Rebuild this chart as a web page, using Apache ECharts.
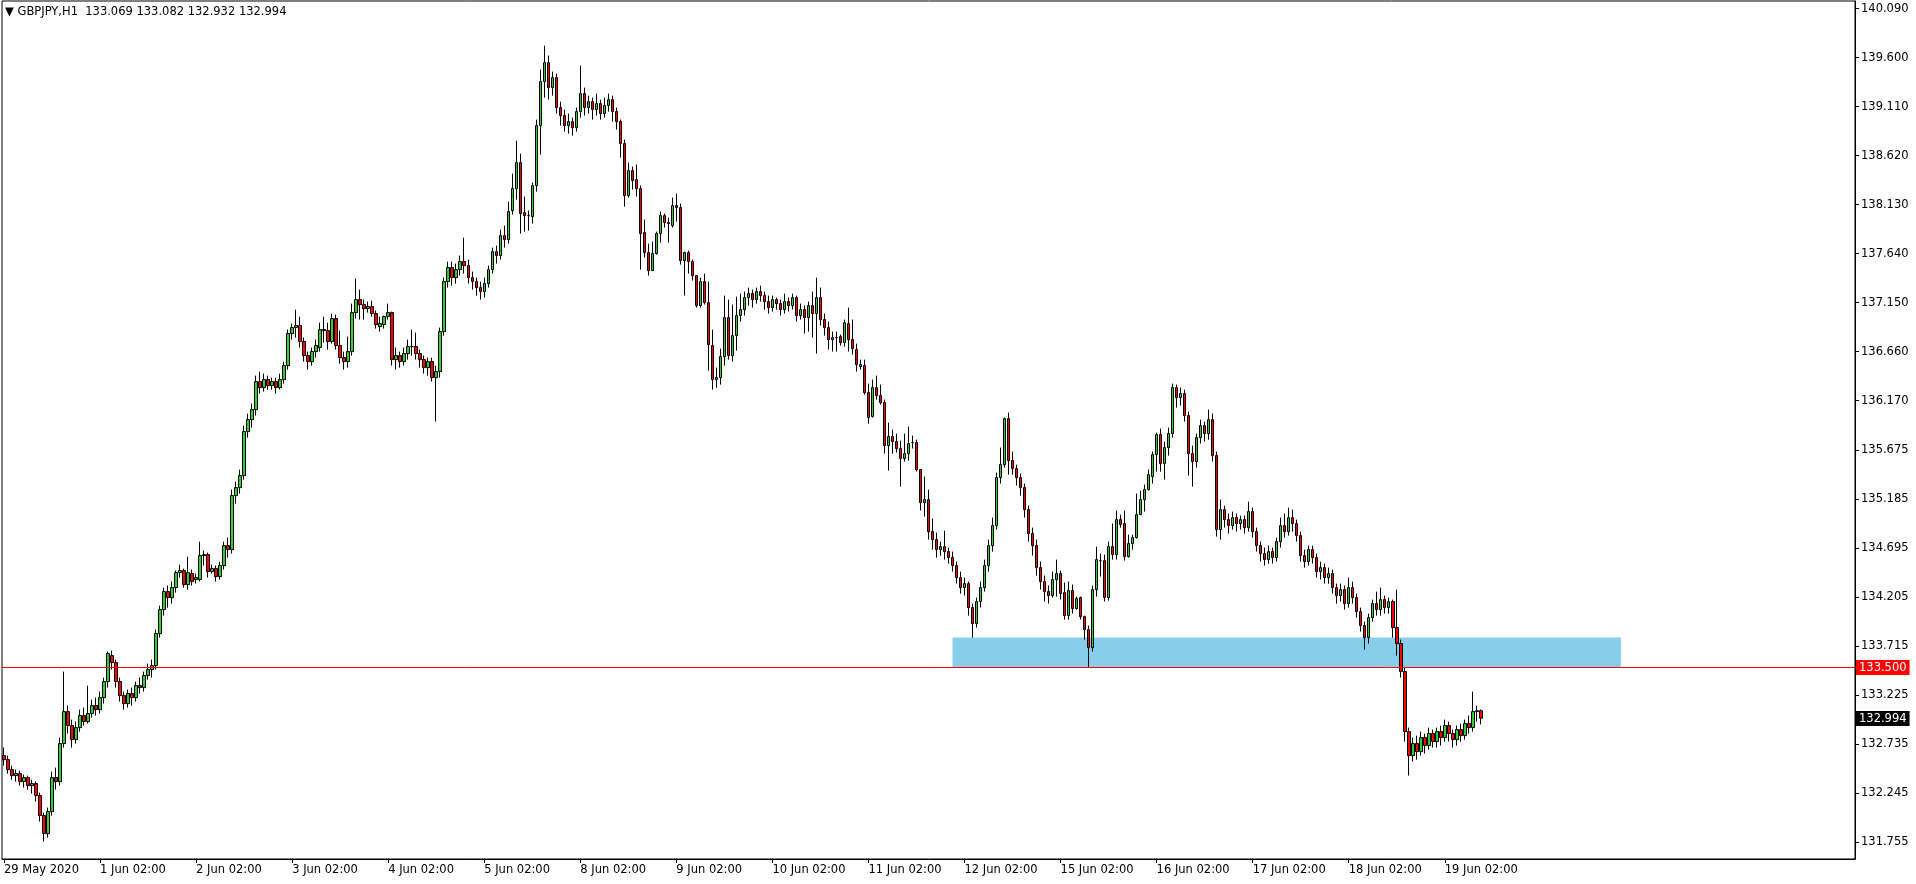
<!DOCTYPE html>
<html><head><meta charset="utf-8">
<script src="https://cdn.jsdelivr.net/npm/echarts@6/dist/echarts.min.js"></script>
<style>html,body{margin:0;padding:0;background:#fff}#c{width:1916px;height:884px}</style>
</head><body><div id="c"></div>
<script>
// ---- data: hourly candles [open, close, low, high] ----
const symbolTitle = 'GBPJPY,H1';
const lastQuote = ['133.069', '133.082', '132.932', '132.994'];
const levelPrice = 133.500;
const lastPrice = 132.994;
const zoneLow = 133.50, zoneHigh = 133.80;
const zoneFrom = '11 Jun 23:00', zoneTo = '+35';
const yTicks = [131.755, 132.245, 132.735, 133.225, 133.715, 134.205, 134.695, 135.185, 135.675, 136.170, 136.660, 137.150, 137.640, 138.130, 138.620, 139.110, 139.600, 140.090];
const dayNames = ['29 May', '1 Jun', '2 Jun', '3 Jun', '4 Jun', '5 Jun', '8 Jun', '9 Jun', '10 Jun', '11 Jun', '12 Jun', '15 Jun', '16 Jun', '17 Jun', '18 Jun', '19 Jun'];
const firstLabel = '29 May 2020';
const futureSlots = 93;

const may29 = [
[132.62,132.58,132.52,132.70],[132.58,132.48,132.44,132.62],[132.48,132.42,132.38,132.52],[132.42,132.44,132.36,132.48],
[132.44,132.36,132.32,132.47],[132.36,132.40,132.30,132.43],[132.40,132.32,132.28,132.42],[132.32,132.34,132.24,132.38],
[132.34,132.22,132.16,132.36],[132.22,132.02,131.96,132.25],[132.02,131.84,131.76,132.05],[131.84,132.06,131.80,132.10],
[132.06,132.40,132.02,132.46],[132.40,132.36,132.28,132.50],[132.36,132.74,132.32,132.80],[132.74,133.06,132.70,133.46],
[133.06,132.92,132.84,133.12],[132.92,132.78,132.70,132.98],[132.78,132.90,132.74,132.96],[132.90,133.02,132.86,133.08],
[133.02,132.96,132.92,133.10],[132.96,133.04,132.94,133.32]];
const jun01 = [
[133.04,133.12,133.00,133.18],[133.12,133.08,133.02,133.20],[133.08,133.20,133.04,133.26],[133.20,133.36,133.14,133.40],
[133.36,133.64,133.30,133.66],[133.62,133.55,133.48,133.67],[133.55,133.36,133.30,133.58],[133.36,133.22,133.16,133.40],
[133.22,133.14,133.08,133.26],[133.14,133.24,133.10,133.28],[133.24,133.20,133.12,133.30],[133.20,133.32,133.16,133.36],
[133.32,133.30,133.24,133.40],[133.30,133.42,133.26,133.46],[133.42,133.48,133.38,133.54],[133.48,133.52,133.40,133.58],
[133.52,133.84,133.48,133.88],[133.84,134.08,133.80,134.12],[134.08,134.26,134.02,134.30],[134.26,134.20,134.10,134.32],
[134.20,134.30,134.14,134.36],[134.30,134.45,134.25,134.47],[134.45,134.47,134.40,134.53],[134.47,134.33,134.30,134.49]];
const jun02 = [
[134.33,134.45,134.28,134.61],[134.44,134.36,134.32,134.48],[134.38,134.40,134.34,134.44],[134.38,134.62,134.36,134.76],
[134.62,134.63,134.52,134.67],[134.63,134.46,134.40,134.65],[134.46,134.49,134.44,134.53],[134.49,134.41,134.36,134.52],
[134.41,134.52,134.38,134.56],[134.52,134.72,134.48,134.76],[134.72,134.68,134.60,134.80],[134.68,135.22,134.64,135.28],
[135.22,135.30,135.14,135.36],[135.30,135.42,135.24,135.48],[135.42,135.86,135.38,135.92],[135.86,135.98,135.80,136.04],
[135.98,136.08,135.90,136.14],[136.08,136.36,136.02,136.42],[136.36,136.30,136.24,136.46],[136.30,136.38,136.26,136.44],
[136.38,136.32,136.28,136.42],[136.32,136.36,136.28,136.40],[136.36,136.30,136.24,136.40],[136.30,136.38,136.28,136.44]];
const jun03 = [
[136.38,136.52,136.34,136.56],[136.52,136.84,136.48,136.88],[136.84,136.90,136.78,136.94],[136.90,136.92,136.80,137.08],
[136.92,136.76,136.70,137.01],[136.76,136.62,136.56,136.80],[136.62,136.56,136.48,136.66],[136.56,136.66,136.52,136.70],
[136.66,136.72,136.60,136.78],[136.70,136.88,136.66,136.95],[136.88,136.87,136.75,137.01],[136.87,136.76,136.68,136.95],
[136.76,136.99,136.74,137.04],[136.99,136.72,136.68,137.03],[136.72,136.60,136.54,136.87],[136.60,136.56,136.48,136.66],
[136.56,136.66,136.50,136.81],[136.66,137.05,136.62,137.14],[137.05,137.18,136.99,137.39],[137.18,137.13,136.98,137.28],
[137.13,137.09,136.98,137.18],[137.09,137.11,137.05,137.16],[137.11,137.04,137.01,137.17],[137.04,136.93,136.89,137.07]];
const jun04 = [
[136.91,136.94,136.86,137.01],[136.93,137.01,136.89,137.02],[137.01,137.05,136.98,137.14],[137.05,136.58,136.52,137.06],
[136.58,136.62,136.48,136.70],[136.62,136.56,136.50,136.66],[136.56,136.64,136.52,136.70],[136.64,136.71,136.58,136.78],
[136.71,136.71,136.62,136.88],[136.71,136.64,136.58,136.85],[136.64,136.58,136.50,136.68],[136.58,136.50,136.44,136.62],
[136.50,136.56,136.42,136.60],[136.56,136.40,136.36,136.60],[136.40,136.46,135.96,136.52],[136.46,136.86,136.40,136.90],
[136.86,137.36,136.82,137.40],[137.36,137.50,137.30,137.56],[137.50,137.40,137.32,137.56],[137.40,137.48,137.34,137.54],
[137.48,137.56,137.42,137.62],[137.56,137.52,137.44,137.80],[137.52,137.40,137.34,137.58],[137.40,137.36,137.28,137.46]];
const jun05 = [
[137.36,137.30,137.22,137.40],[137.30,137.26,137.18,137.36],[137.26,137.34,137.20,137.40],[137.34,137.48,137.30,137.52],
[137.48,137.66,137.44,137.70],[137.66,137.62,137.54,137.72],[137.62,137.82,137.58,137.88],[137.82,137.78,137.70,137.92],
[137.78,138.06,137.74,138.16],[138.07,138.29,138.03,138.44],[138.29,138.55,138.18,138.77],[138.55,138.04,137.84,138.64],
[138.05,138.02,137.86,138.21],[138.02,138.02,137.87,138.07],[138.01,138.32,137.94,138.35],[138.32,138.92,138.26,138.98],
[138.92,139.36,138.63,139.48],[139.36,139.55,139.20,139.72],[139.55,139.30,139.18,139.62],[139.30,139.40,139.22,139.46],
[139.40,139.10,139.04,139.44],[139.10,139.02,138.92,139.16],[139.02,138.92,138.86,139.08],[138.92,138.96,138.84,139.04]];
const jun08 = [
[138.96,138.90,138.82,139.00],[138.90,139.06,138.86,139.10],[139.06,139.24,139.00,139.52],[139.24,139.10,139.02,139.30],
[139.10,139.16,139.04,139.22],[139.16,139.08,138.98,139.20],[139.08,139.14,139.02,139.24],[139.14,139.04,138.98,139.18],
[139.04,139.12,139.00,139.20],[139.12,139.18,139.06,139.24],[139.18,139.06,138.96,139.22],[139.06,138.96,138.88,139.10],
[138.96,138.74,138.60,138.98],[138.74,138.22,138.11,138.78],[138.22,138.47,138.20,138.55],[138.47,138.37,138.28,138.51],
[138.38,138.29,138.21,138.53],[138.29,137.84,137.48,138.32],[137.85,137.65,137.60,137.98],[137.65,137.47,137.42,137.74],
[137.47,137.64,137.47,137.76],[137.64,137.84,137.63,137.86],[137.84,138.02,137.75,138.06],[138.02,137.95,137.90,138.04]];
const jun09 = [
[137.95,137.94,137.75,138.00],[137.92,138.12,137.90,138.20],[138.12,138.10,137.96,138.24],[138.10,137.57,137.53,138.14],
[137.57,137.65,137.22,137.66],[137.65,137.56,137.44,137.67],[137.56,137.42,137.37,137.58],[137.42,137.12,137.10,137.42],
[137.12,137.36,137.10,137.40],[137.36,137.15,137.13,137.44],[137.15,136.73,136.47,137.36],[136.72,136.38,136.28,136.88],
[136.38,136.40,136.30,136.50],[136.40,136.61,136.33,136.69],[136.61,137.00,136.52,137.22],[137.00,136.62,136.58,137.18],
[136.62,136.82,136.56,137.13],[136.82,137.02,136.67,137.21],[137.02,137.08,136.96,137.24],[137.08,137.20,137.02,137.26],
[137.20,137.24,137.12,137.30],[137.24,137.18,137.10,137.28],[137.18,137.26,137.14,137.30],[137.26,137.22,137.16,137.32]];
const jun10 = [
[137.22,137.16,137.08,137.26],[137.16,137.10,137.04,137.22],[137.10,137.18,137.06,137.22],[137.18,137.14,137.08,137.20],
[137.14,137.08,137.02,137.18],[137.08,137.16,137.04,137.24],[137.16,137.12,137.06,137.20],[137.12,137.20,137.08,137.24],
[137.20,137.02,136.96,137.22],[137.02,137.08,136.98,137.14],[137.08,137.00,136.84,137.12],[137.00,137.12,136.86,137.16],
[137.12,137.04,136.80,137.26],[137.04,137.20,136.64,137.40],[137.20,136.98,136.92,137.30],[136.98,136.90,136.82,137.04],
[136.90,136.78,136.68,136.96],[136.78,136.80,136.66,136.86],[136.80,136.80,136.66,136.86],[136.81,136.75,136.72,136.83],
[136.75,136.95,136.71,136.98],[136.94,136.78,136.66,137.10],[136.78,136.69,136.63,136.98],[136.68,136.53,136.46,136.74]];
const jun11 = [
[136.51,136.53,136.48,136.58],[136.52,136.25,136.23,136.58],[136.25,136.00,135.94,136.34],[136.01,136.30,136.00,136.38],
[136.30,136.22,136.18,136.42],[136.22,136.15,136.13,136.33],[136.15,135.72,135.64,136.18],[135.72,135.81,135.47,135.95],
[135.81,135.76,135.64,135.88],[135.76,135.69,135.65,135.84],[135.69,135.59,135.31,135.77],[135.59,135.64,135.56,135.84],
[135.64,135.74,135.57,135.91],[135.75,135.75,135.69,135.82],[135.75,135.48,135.46,135.78],[135.48,135.15,135.07,135.48],
[135.15,135.18,135.01,135.41],[135.18,134.86,134.78,135.28],[134.86,134.78,134.68,134.99],[134.78,134.68,134.60,134.85],
[134.68,134.71,134.62,134.76],[134.71,134.66,134.58,134.87],[134.66,134.60,134.54,134.70],[134.60,134.52,134.46,134.66]];
const jun12 = [
[134.52,134.40,134.34,134.56],[134.40,134.30,134.24,134.46],[134.30,134.34,134.22,134.40],[134.34,134.10,134.02,134.36],
[134.10,133.94,133.80,134.14],[133.94,134.16,133.90,134.20],[134.16,134.30,134.10,134.36],[134.30,134.52,134.26,134.58],
[134.52,134.72,134.46,134.78],[134.72,134.92,134.66,135.00],[134.92,135.40,134.88,135.45],[135.40,135.53,135.34,135.70],
[135.53,135.99,135.50,136.00],[135.99,135.57,135.43,136.05],[135.57,135.49,135.43,135.66],[135.49,135.40,135.32,135.53],
[135.40,135.30,135.22,135.44],[135.30,135.08,135.00,135.34],[135.08,134.84,134.76,135.12],[134.84,134.72,134.62,134.90],
[134.72,134.50,134.42,134.78],[134.50,134.36,134.28,134.56],[134.36,134.26,134.16,134.42],[134.26,134.22,134.14,134.32]];
const jun15 = [
[134.22,134.38,134.20,134.46],[134.38,134.44,134.21,134.58],[134.44,134.24,134.18,134.47],[134.25,134.02,133.98,134.35],
[134.02,134.27,133.98,134.36],[134.27,134.09,134.04,134.33],[134.09,134.19,134.08,134.21],[134.20,134.01,133.98,134.21],
[134.01,133.88,133.78,134.02],[133.88,133.70,133.50,133.92],[133.70,134.28,133.66,134.32],[134.28,134.58,134.21,134.71],
[134.57,134.57,134.41,134.64],[134.57,134.20,134.16,134.63],[134.20,134.71,134.17,134.76],[134.71,134.63,134.58,134.94],
[134.63,134.98,134.58,135.07],[134.98,134.93,134.90,135.03],[134.94,134.61,134.57,135.07],[134.61,134.74,134.60,134.83],
[134.74,134.80,134.68,134.83],[134.80,135.03,134.79,135.24],[135.03,135.18,135.03,135.27],[135.18,135.28,135.06,135.33]];
const jun16 = [
[135.28,135.43,135.27,135.48],[135.41,135.63,135.34,135.66],[135.63,135.83,135.46,135.85],[135.83,135.54,135.46,135.89],
[135.54,135.70,135.38,135.76],[135.70,135.84,135.62,135.90],[135.84,136.30,135.80,136.34],[136.30,136.20,136.10,136.33],
[136.20,136.24,136.12,136.30],[136.24,136.02,135.96,136.28],[136.02,135.64,135.42,136.06],[135.64,135.56,135.31,135.72],
[135.56,135.80,135.50,135.84],[135.80,135.92,135.74,135.98],[135.92,135.84,135.76,135.96],[135.84,135.98,135.78,136.08],
[135.98,135.62,135.56,136.04],[135.62,134.88,134.81,135.66],[134.88,135.08,134.78,135.18],[135.08,134.98,134.90,135.12],
[134.98,134.92,134.84,135.04],[134.92,135.00,134.88,135.06],[135.00,134.94,134.86,135.04],[134.94,134.98,134.88,135.02]];
const jun17 = [
[134.98,134.90,134.84,135.02],[134.90,135.06,134.86,135.16],[135.06,134.86,134.80,135.10],[134.86,134.72,134.66,134.90],
[134.72,134.64,134.56,134.76],[134.64,134.58,134.52,134.70],[134.58,134.66,134.54,134.72],[134.66,134.60,134.54,134.70],
[134.60,134.76,134.56,134.80],[134.76,134.92,134.70,135.00],[134.92,134.86,134.80,135.04],[134.86,135.00,134.82,135.10],
[135.00,134.94,134.86,135.08],[134.94,134.82,134.76,134.98],[134.82,134.62,134.56,134.86],[134.62,134.56,134.50,134.68],
[134.56,134.68,134.52,134.72],[134.68,134.60,134.54,134.72],[134.60,134.46,134.40,134.64],[134.46,134.50,134.38,134.56],
[134.50,134.40,134.34,134.54],[134.40,134.44,134.34,134.50],[134.44,134.30,134.24,134.48],[134.30,134.22,134.14,134.34]];
const jun18 = [
[134.22,134.28,134.16,134.34],[134.28,134.14,134.08,134.32],[134.14,134.30,134.10,134.40],[134.30,134.20,134.14,134.36],
[134.20,134.06,134.00,134.24],[134.06,133.92,133.86,134.10],[133.92,133.80,133.68,133.96],[133.80,134.00,133.74,134.04],
[134.00,134.14,133.96,134.18],[134.14,134.08,134.02,134.26],[134.08,134.18,134.02,134.30],[134.18,134.10,134.04,134.22],
[134.10,134.16,134.04,134.20],[134.16,133.90,133.80,134.18],[133.90,133.74,133.62,134.28],[133.74,133.46,133.40,133.78],
[133.46,132.86,132.76,133.50],[132.86,132.62,132.42,132.90],[132.62,132.74,132.56,132.80],[132.74,132.66,132.58,132.82],
[132.66,132.80,132.62,132.86],[132.80,132.72,132.64,132.84],[132.72,132.84,132.68,132.90],[132.84,132.76,132.70,132.88]];
const jun19 = [
[132.76,132.86,132.70,132.90],[132.86,132.80,132.72,132.92],[132.80,132.92,132.76,132.98],[132.92,132.84,132.76,132.96],
[132.84,132.78,132.70,132.88],[132.78,132.88,132.72,132.92],[132.88,132.82,132.76,132.94],[132.82,132.94,132.78,132.98],
[132.94,132.90,132.84,133.02],[132.90,133.06,132.86,133.26],[133.06,133.069,132.96,133.12],[133.069,132.994,132.932,133.082]];

const dayBars = [may29, jun01, jun02, jun03, jun04, jun05, jun08, jun09, jun10, jun11, jun12, jun15, jun16, jun17, jun18, jun19];

// ---- build categories ----
const categories = [];
const ohlc = [];
dayBars.forEach((bars, d) => {
  const startHour = d === 0 ? 2 : 0;
  bars.forEach((b, k) => {
    const h = startHour + k;
    categories.push(dayNames[d] + ' ' + (h < 10 ? '0' + h : h) + ':00');
    ohlc.push(b);
  });
});
for (let k = 1; k <= futureSlots; k++) categories.push('+' + k);

const showLabel = (idx, val) => idx === 0 || / 02:00$/.test(val);
const FONT = 'DejaVu Sans';

const chart = echarts.init(document.getElementById('c'), null, {renderer: 'canvas'});
chart.setOption({
  animation: false,
  backgroundColor: '#ffffff',
  grid: {left: 2, right: 61, top: 1, bottom: 25, show: true, borderColor: '#000', borderWidth: 1, backgroundColor: 'transparent'},
  xAxis: {
    type: 'category',
    data: categories,
    boundaryGap: true,
    axisLine: {show: true, lineStyle: {color: '#000', width: 1}},
    axisTick: {show: true, alignWithLabel: true, interval: showLabel, length: 4, lineStyle: {color: '#000'}},
    axisLabel: {
      show: true, interval: showLabel, align: 'left', margin: 5,
      color: '#000', fontSize: 11.5, fontFamily: FONT,
      formatter: (val, idx) => idx === 0 ? firstLabel : val
    },
    splitLine: {show: false}
  },
  yAxis: {
    type: 'value',
    position: 'right',
    min: 131.586, max: 140.166,
    axisLine: {show: true, lineStyle: {color: '#000', width: 1}},
    axisTick: {show: true, customValues: yTicks, length: 4, lineStyle: {color: '#000'}},
    axisLabel: {show: true, customValues: yTicks, margin: 6, color: '#000', fontSize: 11.5, fontFamily: FONT,
      formatter: v => Number(v).toFixed(3)},
    splitLine: {show: false}
  },
  series: [
    {
      type: 'line', data: [], z: 1, silent: true,
      markArea: {
        silent: true,
        itemStyle: {color: '#87CEEB', opacity: 1},
        data: [[{xAxis: zoneFrom, yAxis: zoneHigh}, {xAxis: zoneTo, yAxis: zoneLow}]]
      }
    },
    {
      type: 'candlestick',
      z: 3,
      data: ohlc,
      barWidth: 3,
      itemStyle: {color: '#33cc33', color0: '#ff0000', borderColor: '#000', borderColor0: '#000', borderWidth: 1},
      markLine: {
        silent: true, symbol: 'none', animation: false,
        data: [
          {yAxis: levelPrice, lineStyle: {color: '#ff0000', width: 1, type: 'solid'},
           label: {show: true, position: 'end', distance: 1, formatter: levelPrice.toFixed(3), color: '#fff', backgroundColor: '#ff0000', padding: [2, 3, 1, 3], fontSize: 11.5, fontFamily: FONT}},
          {yAxis: lastPrice, lineStyle: {color: 'rgba(0,0,0,0)', width: 1},
           label: {show: true, position: 'end', distance: 1, formatter: lastPrice.toFixed(3), color: '#fff', backgroundColor: '#000', padding: [2, 3, 1, 3], fontSize: 11.5, fontFamily: FONT}}
        ]
      }
    }
  ],
  graphic: [{
    type: 'text', left: 5, top: 6, z: 10,
    style: {text: '\u25BC ' + symbolTitle + '  ' + lastQuote.join(' '), fill: '#000', font: '11.5px "' + FONT + '"'}
  }]
});
</script>
</body></html>
